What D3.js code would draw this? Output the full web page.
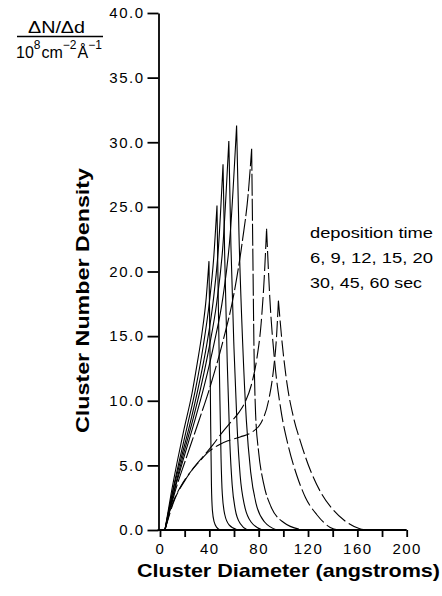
<!DOCTYPE html>
<html>
<head>
<meta charset="utf-8">
<script src="https://cdnjs.cloudflare.com/ajax/libs/d3/7.8.5/d3.min.js"></script>
<style>
  body { margin: 0; background: #fff; }
  svg { display: block; font-family: "Liberation Sans", Arial, sans-serif; }
  .axis path, .axis line { stroke: #000; stroke-width: 1.8; }
  .axis text { font-size: 15px; fill: #000; letter-spacing: 1.5px; }
  .curve { fill: none; stroke: #000; stroke-width: 1.1; }
</style>
</head>
<body>
<script>
// deposition times (sec), one curve each
var times = [6, 9, 12, 15, 20, 30, 45, 60];

// [diameter (angstroms), dN/dd (10^8 cm^-2 A^-1)]
var curve6 = [[4,0],[9,2.8],[14,5.3],[19,7.6],[26,10.6],[30,12.8],[34,15.2],[37.5,18],[39.7,20.8],
  [40.4,15],[41.1,8],[41.7,3.5],[42.5,1.5],[44,0.6],[46,0.2],[48.6,0]];
var curve9 = [[4,0],[10,2.9],[16,5.5],[22,8],[29,11],[35,14.2],[40,17.6],[43.5,21],[46.2,25.1],
  [47.2,18],[48.4,11],[49.5,5.5],[50.5,2.8],[52.5,1.2],[56,0.4],[63,0]];
var curve12 = [[4,0],[10,2.8],[17,5.5],[24,8.1],[31,11],[38,14.4],[43,17.6],[47.5,22],[51.1,28.3],
  [52.5,21],[54.5,13],[56.5,7],[58.5,3.5],[61,1.6],[65,0.5],[71,0]];
var curve15 = [[4,0],[11,2.9],[18,5.5],[26,8.3],[33,11],[40,14.2],[46,17.6],[51,22],[55.8,30.1],
  [57.5,22],[60,14],[62.5,8],[65,4.2],[68.5,1.9],[74,0.6],[83,0]];
var curve20 = [[4,0],[11,2.8],[19,5.5],[28,8.4],[36,11.2],[44,14.5],[51,18],[57,23],[62.1,31.3],
  [64,23],[67,14.5],[70,8.5],[73.5,4.5],[78,2],[85,0.6],[95,0]];
var curve30 = [[4,0],[12,2.9],[21,5.5],[31,8.3],[41,11.2],[51,14.6],[60,18.3],[67,22.5],[71.5,26],[74.3,29.5],
  [75.2,22],[76.2,14],[77.5,9],[80,6],[84,3.6],[90,1.8],[100,0.6],[116,0]];
var curve45 = [[4,0],[12,2.4],[20,3.8],[28,4.9],[36,5.8],[43,6.6],[50,7.5],[57,8.3],[64,9.1],[69,9.9],[74,11.2],[78.4,13.2],[82,16],[84.5,19.5],[86.4,23.3],
  [89,18],[93,13],[98,9.3],[104,6.5],[111,4.2],[118,2.5],[127,1.2],[138,0.2],[145,0]];
var curve60 = [[4,0],[10,2.0],[17,3.4],[24,4.4],[31,5.2],[40,6.1],[48,6.6],[55,6.9],[65,7.2],[75,7.6],[82,8.3],[88,10],[92,12.4],[94.5,15],[96,17.75],
  [99,14.5],[103,11.3],[108,8.8],[114,6.8],[122,4.6],[131,2.8],[140,1.6],[150,0.7],[162,0.1],[170,0]];
var curves = [curve6, curve9, curve12, curve15, curve20, curve30, curve45, curve60];

// the later curves are drawn broken in the figure
var dashes = ['none', 'none', 'none', 'none', 'none', '22,3', '18,4', '16,4'];

var yTicks = [0, 5, 10, 15, 20, 25, 30, 35, 40];
var xTicks = [0, 20, 40, 60, 80, 100, 120, 140, 160, 180, 200];
var xLabels = [0, 40, 80, 120, 160, 200];

var w = 442, h = 596;
var svg = d3.select('body').append('svg')
    .attr('width', w)
    .attr('height', h);

var xScale = d3.scaleLinear().domain([0, 200]).range([160, 406.7]);
var yScale = d3.scaleLinear().domain([0, 40]).range([530, 13]);

// Y-axis
var yAxis = d3.axisLeft(yScale)
    .tickValues(yTicks)
    .tickSize(11)
    .tickSizeOuter(0)
    .tickPadding(3)
    .tickFormat(d3.format('.1f'));

svg.append('g')
    .attr('class', 'axis')
    .attr('transform', 'translate(158.5,0)')
    .call(yAxis);

// X-axis
var xAxis = d3.axisBottom(xScale)
    .tickValues(xTicks)
    .tickSize(7)
    .tickSizeOuter(0)
    .tickPadding(6)
    .tickFormat(function (d) { return xLabels.indexOf(d) >= 0 ? d : ''; });

var gx = svg.append('g')
    .attr('class', 'axis')
    .attr('transform', 'translate(0,530)')
    .call(xAxis);
gx.select('.domain').attr('d', 'M157.6,0H406.7');

// curves: rise and fall drawn separately so the peak stays a cusp
var line = d3.line()
    .x(function (d) { return xScale(d[0]); })
    .y(function (d) { return yScale(d[1]); })
    .curve(d3.curveMonotoneX);

curves.forEach(function (c, i) {
    var peak = d3.maxIndex(c, function (d) { return d[1]; });
    svg.append('path')
        .attr('class', 'curve')
        .attr('data-time', times[i])
        .attr('stroke-dasharray', dashes[i])
        .attr('d', line(c.slice(0, peak + 1)) + line(c.slice(peak)));
});

// axis titles
svg.append('text')
    .attr('x', 137)
    .attr('y', 577)
    .attr('textLength', 303)
    .attr('lengthAdjust', 'spacingAndGlyphs')
    .style('font-size', '19px')
    .style('font-weight', 'bold')
    .text('Cluster Diameter (angstroms)');

svg.append('text')
    .attr('transform', 'translate(89,433) rotate(-90)')
    .attr('textLength', 265)
    .attr('lengthAdjust', 'spacingAndGlyphs')
    .style('font-size', '19px')
    .style('font-weight', 'bold')
    .text('Cluster Number Density');

// unit label at top left
var unit = svg.append('g').style('font-size', '16px');
unit.append('text')
    .attr('x', 28).attr('y', 33)
    .attr('textLength', 57)
    .attr('lengthAdjust', 'spacingAndGlyphs')
    .text('\u0394N/\u0394d');
unit.append('line')
    .attr('x1', 17).attr('x2', 103)
    .attr('y1', 36.5).attr('y2', 36.5)
    .attr('stroke', '#000').attr('stroke-width', 1.3);
var bottom = unit.append('text').attr('x', 16).attr('y', 58);
bottom.append('tspan').text('10');
bottom.append('tspan').attr('dy', -9).style('font-size', '12px').text('8');
bottom.append('tspan').attr('dy', 9).attr('dx', 1).text('cm');
bottom.append('tspan').attr('dy', -9).style('font-size', '12px').text('\u22122');
bottom.append('tspan').attr('dy', 9).attr('dx', 1).text('\u00C5');
bottom.append('tspan').attr('dy', -9).style('font-size', '12px').text('\u22121');

// legend text
var legend = ['deposition time', '6, 9, 12, 15, 20', '30, 45, 60 sec'];
var legendW = [123, 123, 112];
svg.selectAll('.legend')
    .data(legend)
    .enter()
    .append('text')
    .attr('class', 'legend')
    .attr('x', 310)
    .attr('y', function (d, i) { return 238 + i * 25; })
    .attr('textLength', function (d, i) { return legendW[i]; })
    .attr('lengthAdjust', 'spacingAndGlyphs')
    .style('font-size', '15px')
    .text(function (d) { return d; });
</script>
</body>
</html>
